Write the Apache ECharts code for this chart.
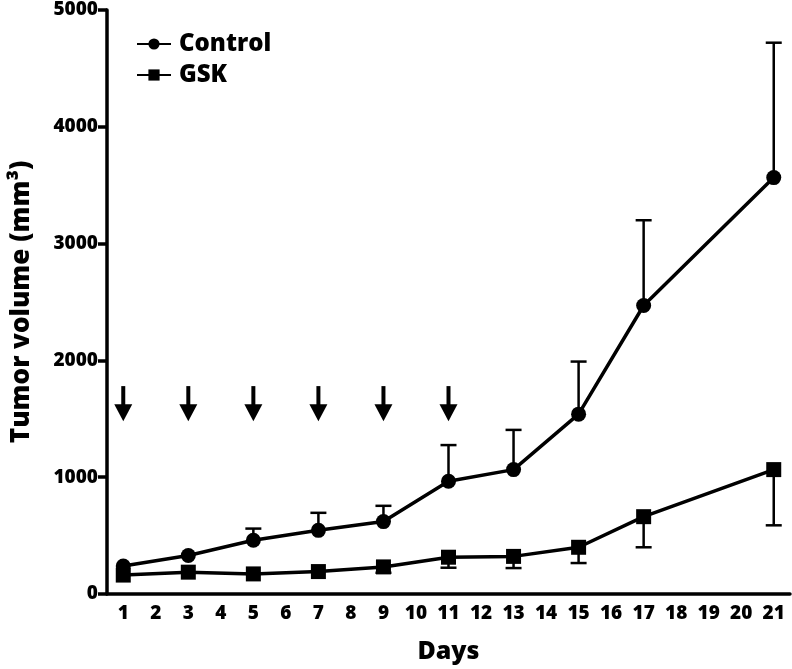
<!DOCTYPE html>
<html>
<head>
<meta charset="utf-8">
<script src="https://cdn.jsdelivr.net/npm/echarts@6/dist/echarts.min.js"></script>
<style>html,body{margin:0;padding:0;background:#fff;}#c{width:792px;height:669px;}</style>
</head>
<body>
<div id="c"></div>
<script>
const dayCategories = ['1','2','3','4','5','6','7','8','9','10','11','12','13','14','15','16','17','18','19','20','21'];
const days = ['1','3','5','7','9','11','13','15','17','21'];
const controlMean = [240, 330, 460, 545, 620, 965, 1065, 1540, 2470, 3565];
const controlErr  = [0, 0, 100, 150, 135, 310, 340, 450, 730, 1155];
const gskMean = [162, 187, 172, 192, 232, 315, 322, 400, 662, 1065];
const gskErr  = [0, 0, 0, 0, 50, 90, 100, 135, 262, 477];
const arrowDays = ['1','3','5','7','9','11'];
const arrowTop = 1780;
const arrowBottom = 1480;

const FONT = 'Open Sans';
const chart = echarts.init(document.getElementById('c'));

function errSeries(name, means, errs, dir) {
  return {
    type: 'custom',
    name: name + ' err',
    silent: true,
    z: 1,
    data: days.map((d, i) => [dayCategories.indexOf(d), means[i], errs[i]]),
    renderItem: function (params, api) {
      const x = api.value(0), m = api.value(1), e = api.value(2);
      if (!e) return null;
      const p0 = api.coord([x, m]);
      const p1 = api.coord([x, m + dir * e]);
      const hw = 8;
      return {
        type: 'group',
        children: [
          {type: 'line', shape: {x1: p0[0], y1: p0[1], x2: p1[0], y2: p1[1]}, style: {stroke: '#000', lineWidth: 2.5}},
          {type: 'line', shape: {x1: p1[0] - hw, y1: p1[1], x2: p1[0] + hw, y2: p1[1]}, style: {stroke: '#000', lineWidth: 2.5}}
        ]
      };
    }
  };
}

const option = {
  backgroundColor: '#fff',
  animation: false,
  grid: {left: 107, right: 2, top: 10, bottom: 72, containLabel: false},
  legend: {
    left: 131, top: 27, orient: 'vertical', itemGap: 7,
    itemWidth: 34, itemHeight: 14,
    textStyle: {fontFamily: FONT, fontWeight: 800, fontSize: 24, color: '#000', padding: [0, 0, 0, 3]},
    data: ['Control', 'GSK']
  },
  xAxis: {
    type: 'category',
    data: dayCategories,
    boundaryGap: true,
    name: 'Days',
    nameLocation: 'middle',
    nameGap: 45,
    nameTextStyle: {fontFamily: FONT, fontWeight: 800, fontSize: 25, color: '#000'},
    axisLine: {lineStyle: {color: '#000', width: 3.5}},
    axisTick: {alignWithLabel: true, interval: 0, length: 9, lineStyle: {width: 3.5, color: '#000'}},
    axisLabel: {interval: 0, fontFamily: FONT, fontWeight: 800, fontSize: 19, color: '#000', margin: 10},
    splitLine: {show: false}
  },
  yAxis: {
    type: 'value',
    min: 0, max: 5000, interval: 1000,
    name: 'Tumor volume (mm³)',
    nameLocation: 'middle',
    nameGap: 72,
    nameTextStyle: {fontFamily: FONT, fontWeight: 800, fontSize: 26, color: '#000'},
    axisLine: {show: true, lineStyle: {color: '#000', width: 3.5}},
    axisTick: {show: true, length: 9, lineStyle: {width: 3.5, color: '#000'}},
    axisLabel: {fontFamily: FONT, fontWeight: 800, fontSize: 19, color: '#000', margin: 9, formatter: v => String(v)},
    splitLine: {show: false}
  },
  series: [
    errSeries('Control', controlMean, controlErr, 1),
    errSeries('GSK', gskMean, gskErr, -1),
    {
      type: 'line', name: 'Control',
      data: days.map((d, i) => [d, controlMean[i]]),
      symbol: 'circle', symbolSize: 15,
      lineStyle: {color: '#000', width: 3.5},
      itemStyle: {color: '#000'},
      z: 3
    },
    {
      type: 'line', name: 'GSK',
      data: days.map((d, i) => [d, gskMean[i]]),
      symbol: 'rect', symbolSize: 15,
      lineStyle: {color: '#000', width: 3.5},
      itemStyle: {color: '#000'},
      z: 3
    },
    {
      type: 'custom', name: 'arrows', silent: true,
      data: arrowDays.map(d => [dayCategories.indexOf(d), arrowTop, arrowBottom]),
      renderItem: function (params, api) {
        const x = api.value(0);
        const pt = api.coord([x, api.value(1)]);
        const pb = api.coord([x, api.value(2)]);
        const headH = 17, headW = 9;
        return {
          type: 'group',
          children: [
            {type: 'line', shape: {x1: pt[0], y1: pt[1], x2: pb[0], y2: pb[1] - headH + 2}, style: {stroke: '#000', lineWidth: 4}},
            {type: 'polygon', shape: {points: [[pb[0] - headW, pb[1] - headH], [pb[0] + headW, pb[1] - headH], [pb[0], pb[1]]]}, style: {fill: '#000'}}
          ]
        };
      }
    }
  ]
};
chart.setOption(option);
</script>
</body>
</html>
